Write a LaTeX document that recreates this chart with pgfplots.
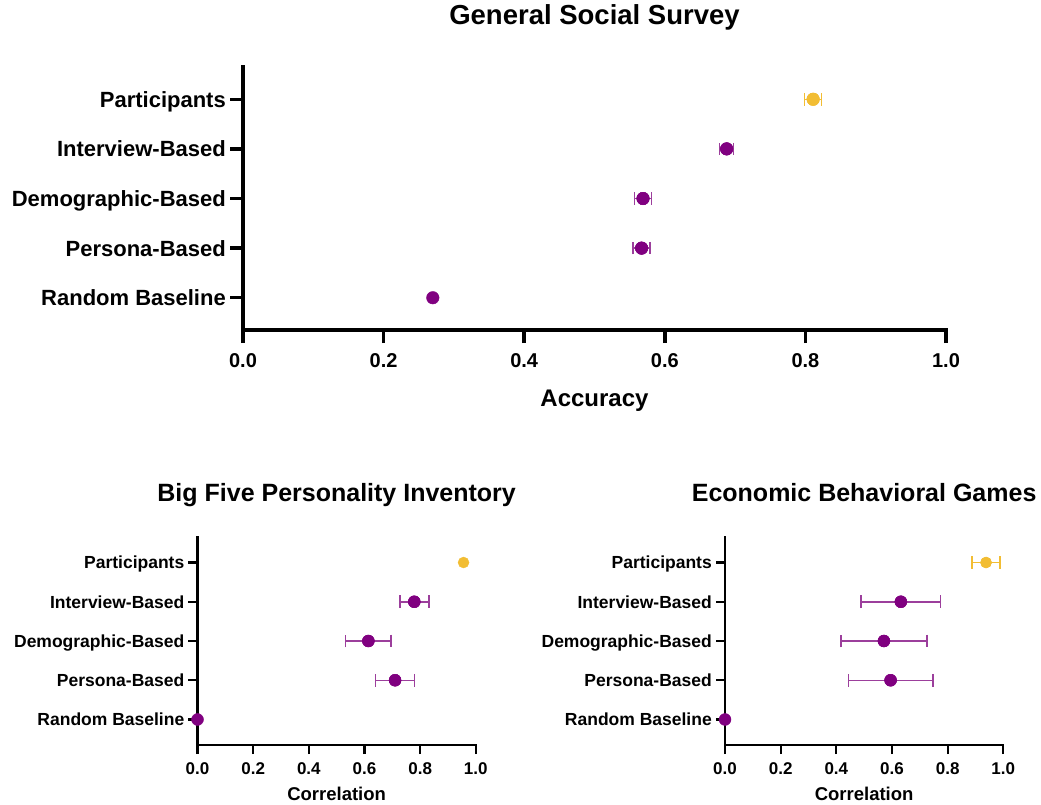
\documentclass[border=0pt]{standalone}
\usepackage{fontspec}
\setmainfont{Liberation Sans}
\usepackage{pgfplots}
\pgfplotsset{compat=1.18}
\definecolor{dotpurple}{HTML}{800080}
\definecolor{barpurple}{HTML}{9C3F9C}
\definecolor{gold}{HTML}{F2BD33}
\newcommand\fs[1]{\fontsize{#1}{#1}\selectfont\bfseries}
\pgfplotsset{
  dotplot/.style={
    scale only axis, clip=false,
    axis x line=bottom, axis y line=left,
    xmin=0, xmax=1, ymin=-0.65, ymax=4.65,
    xtick={0,0.2,0.4,0.6,0.8,1},
    xticklabels={0.0,0.2,0.4,0.6,0.8,1.0},
    ytick={0,1,2,3,4},
    yticklabels={Random Baseline,Persona-Based,Demographic-Based,Interview-Based,Participants},
    tick align=outside,
    xtick pos=bottom, ytick pos=left,
  },
  ebars/.style={
    only marks, mark=*, mark size=#1, color=dotpurple,
    mark options={fill=dotpurple, draw=dotpurple},
    error bars/.cd, x dir=both, x explicit,
    error bar style={line width=1.5pt, barpurple},
    error mark=|,
    error mark options={mark size=6.3pt, line width=1.5pt, barpurple},
  },
  gbars/.style={
    only marks, mark=*, mark size=#1, color=gold,
    mark options={fill=gold, draw=gold},
    error bars/.cd, x dir=both, x explicit,
    error bar style={line width=1.5pt, gold},
    error mark=|,
    error mark options={mark size=6.3pt, line width=1.5pt, gold},
  },
}
\begin{document}
\begin{tikzpicture}
\path[use as bounding box] (0pt,0pt) rectangle (1041pt,-805pt);
% ---------- Top panel ----------
\begin{axis}[dotplot,
  at={(243pt,-330pt)}, anchor=south west, width=703pt, height=263pt,
  axis line style={-, line width=3.5pt, line cap=rect},
  tick style={line width=3.5pt, black}, major tick length=13pt,
  xticklabel style={font=\fs{20}, inner sep=0pt, yshift=-10pt},
  yticklabel style={font=\fs{22}, inner sep=0pt, anchor=base east, xshift=-4pt, yshift=-7.9pt},
  xlabel={Accuracy},
  xlabel style={font=\fs{24}, at={(axis description cs:0.5,0)}, anchor=base, yshift=-76pt},
  title={General Social Survey},
  title style={font=\fs{27.5}, at={(axis description cs:0.5,1)}, anchor=base, yshift=37pt},
]
\addplot[ebars=6.3pt] coordinates {
  (0.688,3) +- (0.010,0)
  (0.569,2) +- (0.012,0)
  (0.567,1) +- (0.012,0)
};
\addplot[only marks, mark=*, mark size=6.3pt, dotpurple] coordinates {
  (0.688,3) (0.569,2) (0.567,1) (0.270,0)
};
\addplot[gbars=6.3pt] coordinates {(0.811,4) +- (0.012,0)};
\addplot[only marks, mark=*, mark size=6.3pt, gold] coordinates {(0.811,4)};
\end{axis}
% ---------- Bottom left ----------
\begin{axis}[dotplot,
  at={(197.5pt,-745pt)}, anchor=south west, width=278.3pt, height=208pt,
  axis line style={-, line width=2.3pt, line cap=rect},
  tick style={line width=2.3pt, black}, major tick length=9pt,
  xticklabel style={font=\fs{17}, inner sep=0pt, yshift=-8pt},
  yticklabel style={font=\fs{17.5}, inner sep=0pt, anchor=base east, xshift=-4pt, yshift=-6.3pt},
  xlabel={Correlation},
  xlabel style={font=\fs{18.5}, at={(axis description cs:0.5,0)}, anchor=base, yshift=-55.7pt},
  title={Big Five Personality Inventory},
  title style={font=\fs{25}, at={(axis description cs:0.5,1)}, anchor=base, yshift=30pt},
]
\addplot[ebars=6pt] coordinates {
  (0.779,3) +- (0.052,0)
  (0.614,2) +- (0.082,0)
  (0.710,1) +- (0.070,0)
};
\addplot[only marks, mark=*, mark size=6pt, dotpurple] coordinates {
  (0.779,3) (0.614,2) (0.710,1) (0.000,0)
};
\addplot[only marks, mark=*, mark size=5.5pt, gold] coordinates {(0.956,4)};
\end{axis}
% ---------- Bottom right ----------
\begin{axis}[dotplot,
  at={(725pt,-745pt)}, anchor=south west, width=278.3pt, height=208pt,
  axis line style={-, line width=2.3pt, line cap=rect},
  tick style={line width=2.3pt, black}, major tick length=9pt,
  xticklabel style={font=\fs{17}, inner sep=0pt, yshift=-8pt},
  yticklabel style={font=\fs{17.5}, inner sep=0pt, anchor=base east, xshift=-4pt, yshift=-6.3pt},
  xlabel={Correlation},
  xlabel style={font=\fs{18.5}, at={(axis description cs:0.5,0)}, anchor=base, yshift=-55.7pt},
  title={Economic Behavioral Games},
  title style={font=\fs{25}, at={(axis description cs:0.5,1)}, anchor=base, yshift=30pt},
]
\addplot[ebars=6pt] coordinates {
  (0.632,3) +- (0.143,0)
  (0.571,2) +- (0.155,0)
  (0.595,1) +- (0.152,0)
};
\addplot[only marks, mark=*, mark size=6pt, dotpurple] coordinates {
  (0.632,3) (0.571,2) (0.595,1) (0.000,0)
};
\addplot[gbars=5.5pt] coordinates {(0.938,4) +- (0.050,0)};
\addplot[only marks, mark=*, mark size=5.5pt, gold] coordinates {(0.938,4)};
\end{axis}
\end{tikzpicture}
\end{document}
